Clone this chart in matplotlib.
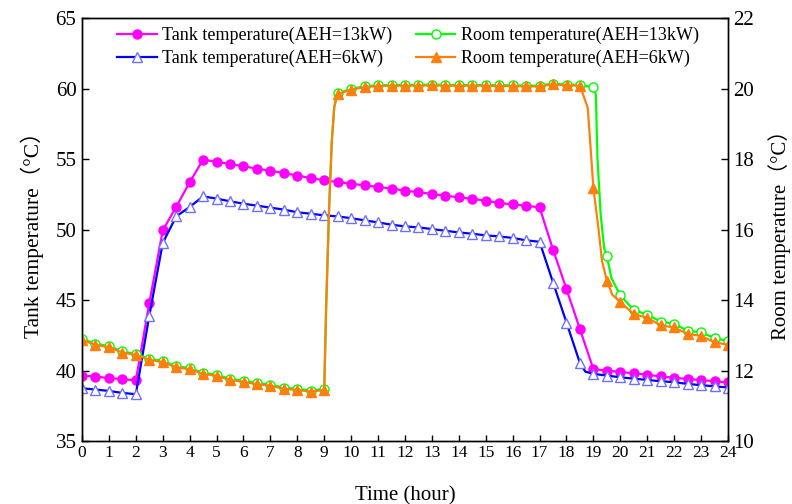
import numpy as np
import matplotlib
matplotlib.use("Agg")
import matplotlib.pyplot as plt
from matplotlib.ticker import MultipleLocator

plt.rcParams['font.family'] = ['Liberation Serif', 'Noto Sans CJK SC', 'DejaVu Sans']
plt.rcParams['mathtext.fontset'] = 'stix'

hours = np.arange(0, 24.5, 0.5)

tank_13kw = [39.64, 39.57, 39.46, 39.39, 39.30, 44.78, 49.94, 51.60, 53.35, 54.96,
             54.80, 54.65, 54.48, 54.32, 54.16, 54.01, 53.82, 53.65, 53.49, 53.37,
             53.25, 53.13, 53.02, 52.90, 52.76, 52.64, 52.52, 52.40, 52.28, 52.17,
             52.05, 51.88, 51.78, 51.69, 51.57, 48.57, 45.77, 42.93, 40.09, 39.99,
             39.90, 39.80, 39.70, 39.58, 39.48, 39.40, 39.32, 39.24, 39.15]

tank_6kw = [38.74, 38.65, 38.55, 38.41, 38.32, 43.88, 49.04, 50.93, 51.60, 52.35,
            52.19, 52.00, 51.83, 51.69, 51.55, 51.41, 51.22, 51.12, 51.00, 50.93,
            50.80, 50.65, 50.50, 50.34, 50.22, 50.15, 50.03, 49.91, 49.79, 49.70,
            49.58, 49.51, 49.40, 49.23, 49.13, 46.24, 43.40, 40.52, 39.76, 39.64,
            39.52, 39.42, 39.33, 39.24, 39.17, 39.05, 38.96, 38.88, 38.79]

room_13kw = [12.90, 12.76, 12.69, 12.54, 12.47, 12.33, 12.27, 12.12, 12.07, 11.93,
             11.88, 11.76, 11.71, 11.64, 11.60, 11.51, 11.48, 11.43, 11.48, 19.86,
             19.99, 20.06, 20.09, 20.10, 20.10, 20.10, 20.11, 20.10, 20.10, 20.10,
             20.10, 20.09, 20.09, 20.08, 20.08, 20.14, 20.11, 20.10, 20.03, 15.24,
             14.13, 13.72, 13.58, 13.39, 13.32, 13.13, 13.08, 12.92, 12.84]

room_6kw = [12.87, 12.73, 12.66, 12.51, 12.44, 12.30, 12.24, 12.09, 12.04, 11.90,
            11.85, 11.73, 11.68, 11.61, 11.57, 11.48, 11.45, 11.40, 11.45, 19.84,
            19.97, 20.04, 20.07, 20.08, 20.08, 20.08, 20.09, 20.08, 20.08, 20.08,
            20.08, 20.07, 20.07, 20.06, 20.06, 20.12, 20.09, 20.08, 17.18, 14.55,
            13.94, 13.60, 13.50, 13.28, 13.22, 13.04, 12.98, 12.80, 12.73]

# extra points read along the steep transitions (line only, no markers)
room_13kw_extra_t = [9.07, 9.18, 9.28, 9.37, 9.45, 19.09, 19.15, 19.27, 19.40, 19.67]
room_13kw_extra_v = [13.80, 16.60, 18.50, 19.46, 19.74, 19.83, 18.03, 16.42, 15.47, 14.62]
room_6kw_extra_t = [9.07, 9.18, 9.28, 9.37, 9.45, 18.79, 19.20, 19.32, 19.70]
room_6kw_extra_v = [13.78, 16.60, 18.50, 19.46, 19.74, 19.45, 15.95, 15.10, 14.15]
tank_6kw_extra_t = [18.70]
tank_6kw_extra_v = [39.92]

labels = ['Tank temperature(AEH=13kW)', 'Tank temperature(AEH=6kW)',
          'Room temperature(AEH=13kW)', 'Room temperature(AEH=6kW)']


def merged(t, v, et, ev):
    tt = np.concatenate([t, et])
    vv = np.concatenate([v, ev])
    o = np.argsort(tt, kind='stable')
    return tt[o], vv[o]


fig = plt.figure(figsize=(7.92, 5.04), dpi=100)
ax = fig.add_axes([82/792, 63/504, 646/792, 423/504])
ax2 = ax.twinx()

c_mag = '#ff00ff'
c_blue = '#0000ff'
c_green = '#00ff00'
c_orange = '#ff7f0e'
lw = 1.6

# tank curves
ax.plot(hours, tank_13kw, color=c_mag, lw=lw)
ax.plot(hours, tank_13kw, ls='none', marker='o', ms=6.5, mfc=c_mag, mec=c_mag)
t6, v6 = merged(hours, tank_6kw, tank_6kw_extra_t, tank_6kw_extra_v)
ax.plot(t6, v6, color=c_blue, lw=lw)
ax.plot(hours, tank_6kw, ls='none', marker='^', ms=7, mfc='white', mec='#7070ff', mew=1.0)

# room curves
r13t, r13v = merged(hours, room_13kw, room_13kw_extra_t, room_13kw_extra_v)
ax2.plot(r13t, r13v, color=c_green, lw=lw)
ax2.plot(hours, room_13kw, ls='none', marker='o', ms=6.5, mfc='white', mec=c_green, mew=1.0)
r6t, r6v = merged(hours, room_6kw, room_6kw_extra_t, room_6kw_extra_v)
ax2.plot(r6t, r6v, color=c_orange, lw=lw)
ax2.plot(hours, room_6kw, ls='none', marker='^', ms=7, mfc=c_orange, mec=c_orange)

ax.set_xlim(0, 24)
ax.set_ylim(35, 65)
ax2.set_ylim(10, 22)
ax.xaxis.set_major_locator(MultipleLocator(1))
ax.yaxis.set_major_locator(MultipleLocator(5))
ax2.yaxis.set_major_locator(MultipleLocator(2))

for a in (ax, ax2):
    for s in a.spines.values():
        s.set_linewidth(1.0)
ax.tick_params(axis='x', direction='in', length=4, width=1, labelsize=12.5, pad=3)
ax.tick_params(axis='y', direction='in', length=5, width=1, labelsize=15, pad=4)
ax2.tick_params(axis='y', direction='in', length=5, width=1, labelsize=15, pad=4)

ax.set_xlabel('Time (hour)', fontsize=15, labelpad=18)
ax.set_ylabel('Tank temperature（°C）', fontsize=15.5, labelpad=8)
ax2.set_ylabel('Room temperature（°C）', fontsize=15, labelpad=10)

handles = [
    plt.Line2D([], [], color=c_mag, lw=lw, marker='o', ms=6.5, mfc=c_mag, mec=c_mag),
    plt.Line2D([], [], color=c_blue, lw=lw, marker='^', ms=7, mfc='white', mec='#7070ff'),
    plt.Line2D([], [], color=c_green, lw=lw, marker='o', ms=6.5, mfc='white', mec=c_green),
    plt.Line2D([], [], color=c_orange, lw=lw, marker='^', ms=7, mfc=c_orange, mec=c_orange),
]
fig.legend(handles, labels, ncol=2, loc='upper left',
           bbox_to_anchor=(117/792, 1 - 27/504), frameon=False,
           fontsize=13, handlelength=2.2, handletextpad=0.3,
           columnspacing=1.3, labelspacing=0.3, borderpad=0, borderaxespad=0)

fig.savefig('out.png', dpi=100)
